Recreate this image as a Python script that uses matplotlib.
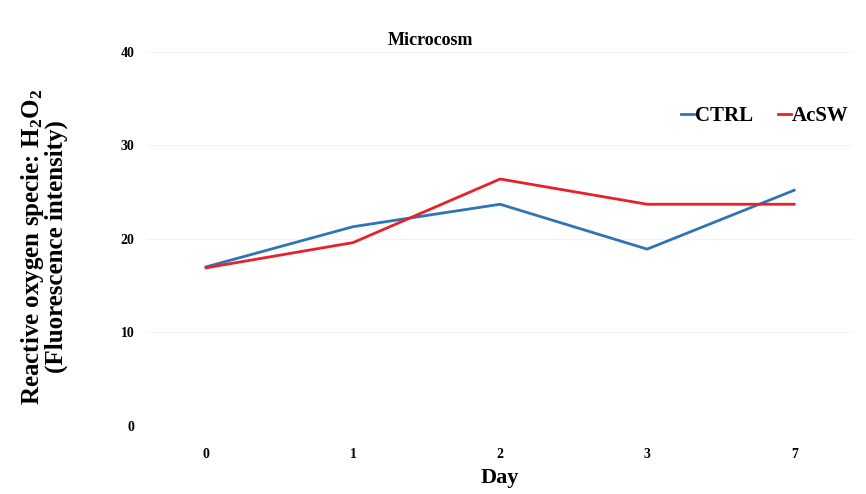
import numpy as np
import matplotlib.pyplot as plt

plt.rcParams['font.family'] = 'Liberation Serif'
plt.rcParams['font.weight'] = 'bold'
plt.rcParams['mathtext.fontset'] = 'custom'
plt.rcParams['mathtext.rm'] = 'Liberation Serif:bold'
plt.rcParams['mathtext.it'] = 'Liberation Serif:bold'
plt.rcParams['mathtext.bf'] = 'Liberation Serif:bold'

# sampling days and H2O2 fluorescence readings
days = ['0', '1', '2', '3', '7']
ctrl = [17.0, 21.3, 23.7, 18.9, 25.2]
acsw = [16.9, 19.6, 26.4, 23.7, 23.7]

fig = plt.figure(figsize=(8.66, 4.94), dpi=100)
ax = fig.add_axes([0.17, 0.138, 0.815, 0.757])

x = np.arange(len(days))
ax.plot(x, ctrl, color='#2E75B6', lw=2.0, label='CTRL')
ax.plot(x, acsw, color='#E8202A', lw=2.0, label='AcSW')

ax.set_xlim(-0.4, 4.4)
ax.set_ylim(0, 40)
ax.set_yticks([0, 10, 20, 30, 40])
ax.set_xticks(x)
ax.set_xticklabels(days)
ax.tick_params(length=0, labelsize=10)
ax.tick_params(axis='x', pad=16)
ax.tick_params(axis='y', pad=9)
ax.grid(axis='y', color='#f3f3f3', lw=0.8)
ax.set_axisbelow(True)
for s in ax.spines.values():
    s.set_visible(False)

ax.set_xlabel('Day', fontsize=16, fontweight='bold', labelpad=5)
fig.text(0.05, 0.5, 'Reactive oxygen specie: H$_2$O$_2$\n(Fluorescence intensity)',
         rotation=90, ha='center', va='center', fontsize=18,
         fontweight='bold', linespacing=0.95)
fig.text(0.497, 0.918, 'Microcosm', ha='center', va='center',
         fontsize=13, fontweight='bold')

ax.legend(loc='upper right', bbox_to_anchor=(1.02, 0.905), ncol=2, frameon=False,
          handlelength=0.6, handletextpad=0.05, columnspacing=1.2,
          prop={'family': 'Liberation Serif', 'weight': 'bold', 'size': 15})

fig.savefig('out.png', dpi=100)
